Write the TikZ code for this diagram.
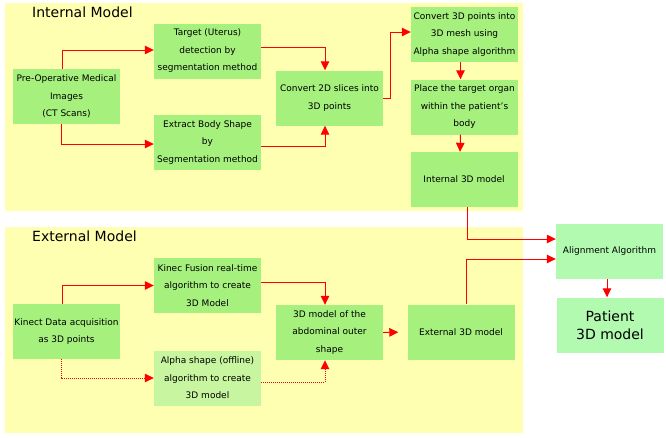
\documentclass[tikz,border=0pt]{standalone}
\usepackage{fontspec}
\setmainfont{DejaVu Sans}
\usetikzlibrary{arrows.meta}

\definecolor{panel}{RGB}{255,255,178}
\definecolor{boxgreen}{RGB}{166,240,126}
\definecolor{boxlight}{RGB}{200,246,160}
\definecolor{boxmint}{RGB}{178,250,176}

\begin{document}
\begin{tikzpicture}[x=1pt, y=-1pt,
  box/.style={fill=boxgreen, minimum width=107pt, minimum height=55pt, inner sep=1pt,
    align=center, font=\fontsize{9}{17.5}\selectfont},
  title/.style={anchor=west, inner sep=0pt, font=\fontsize{14}{16}\selectfont},
  flow/.style={red, line width=1pt, -{Triangle[length=9pt,width=8.5pt]}},
  dotflow/.style={flow, dash pattern=on 1pt off 1pt}]
\useasboundingbox (0,0) rectangle (666,437);
% panels
\fill[panel] (5,3) rectangle (523,211);
\fill[panel] (5,227) rectangle (523,433);
\node[title] (inttitle) at (32,12) {Internal Model};
\node[title] (exttitle) at (32,236.5) {External Model};

% internal model
\node[box] (preop) at (66.5,96.5) {Pre-Operative Medical\\Images\\(CT Scans)};
\node[box] (target) at (207.5,51) {Target (Uterus)\\detection by\\segmentation method};
\node[box] (extract) at (207.5,142.5) {Extract Body Shape\\by\\Segmentation method};
\node[box] (conv2d) at (329.5,98) {Convert 2D slices into\\3D points};
\node[box] (conv3d) at (464.5,34.5) {Convert 3D points into\\3D mesh using\\Alpha shape algorithm};
\node[box] (place) at (464.5,107) {Place the target organ\\within the patient's\\body};
\node[box] (int3d) at (464,179.5) {Internal 3D model};

% external model
\node[box] (kinect) at (66.5,331.5) {Kinect Data acquisition\\as 3D points};
\node[box] (fusion) at (207.5,285.5) {Kinec Fusion real-time\\algorithm to create\\3D Model};
\node[box, fill=boxlight] (alpha) at (207.5,378) {Alpha shape (offline)\\algorithm to create\\3D model};
\node[box] (abdo) at (329.5,332.5) {3D model of the\\abdominal outer\\shape};
\node[box] (ext3d) at (461,332) {External 3D model};

% alignment
\node[box, fill=boxmint] (align) at (609.5,251.5) {Alignment Algorithm};
\node[box, fill=boxmint, font=\fontsize{14}{18}\selectfont] (patient) at (610,325) {Patient\\3D model};

% arrows
\draw[flow] ([xshift=-4pt]preop.north) |- ([yshift=1pt]target.west);
\draw[flow] ([xshift=-5pt]preop.south) |- ([yshift=-1.5pt]extract.west);
\draw[flow] ([yshift=4pt]target.east) -| ([xshift=-4.5pt]conv2d.north);
\draw[flow] ([yshift=-3.5pt]extract.east) -| ([xshift=-4.5pt]conv2d.south);
\draw[flow] (conv2d.east) -- ++(7,0) |- ([yshift=2.5pt]conv3d.west);
\draw[flow] ([xshift=-4pt]conv3d.south) -- ([xshift=-4pt]place.north);
\draw[flow] ([xshift=-4pt]place.south) -- ([xshift=-4pt]int3d.north);
\draw[flow] ([xshift=3pt]int3d.south) |- ([yshift=12.5pt]align.west);
\draw[flow] ([xshift=5pt]ext3d.north) |- ([yshift=-7.5pt]align.west);
\draw[flow] ([xshift=-2.5pt]align.south) -- ([xshift=-3pt]patient.north);
\draw[flow] ([xshift=-4.5pt]kinect.north) |- (fusion.west);
\draw[dotflow] ([xshift=-5.5pt]kinect.south) |- (alpha.west);
\draw[flow] ([yshift=3.5pt]fusion.east) -| ([xshift=-4.5pt]abdo.north);
\draw[dotflow] ([yshift=-4pt]alpha.east) -| ([xshift=-4.5pt]abdo.south);
\draw[flow, shorten >=9pt] (abdo.east) -- (ext3d.west);
\end{tikzpicture}
\end{document}
